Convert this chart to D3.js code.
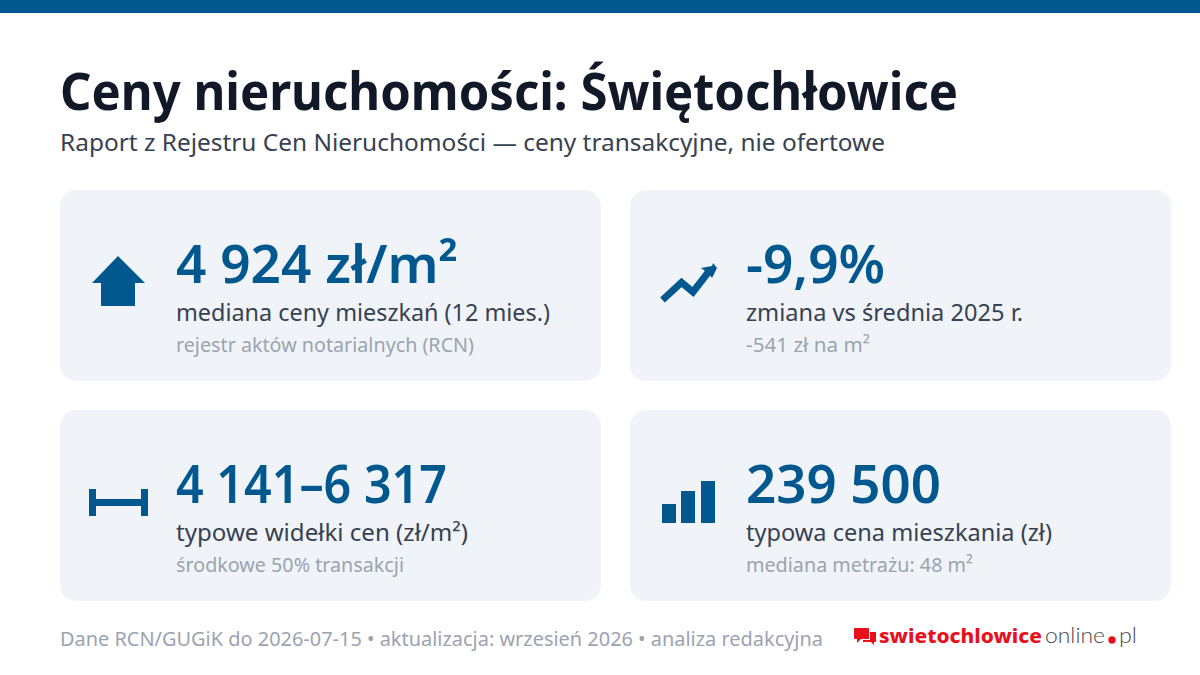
<!DOCTYPE html>
<html lang="pl">
<head>
<meta charset="utf-8">
<script src="https://cdn.jsdelivr.net/npm/d3@7"></script>
<style>
    html, body { margin: 0; padding: 0; background: #fff; }
    svg { display: block; }
    text { font-family: "Noto Sans", sans-serif; }
</style>
</head>
<body>
<svg id="chart" width="1200" height="675"></svg>
<script>
// Contenu des cartes
const values = ['4 924 zł/m²', '-9,9%', '4 141–6 317', '239 500'];
const labels = ['mediana ceny mieszkań (12 mies.)', 'zmiana vs średnia 2025 r.', 'typowe widełki cen (zł/m²)', 'typowa cena mieszkania (zł)'];
const notes = ['rejestr aktów notarialnych (RCN)', '-541 zł na m²', 'środkowe 50% transakcji', 'mediana metrażu: 48 m²'];
const icons = ['house', 'trend', 'range', 'bars'];

const title = 'Ceny nieruchomości: Świętochłowice';
const subtitle = 'Raport z Rejestru Cen Nieruchomości — ceny transakcyjne, nie ofertowe';
const footer = 'Dane RCN/GUGiK do 2026-07-15 • aktualizacja: wrzesień 2026 • analiza redakcyjna';

// Largeurs mesurées sur l'image (la police d'origine n'est pas installée)
const valueWidths = [282, 139, 271, 195];
const labelWidths = [374, 277, 292, 306];
const noteWidths = [298, 124, 228, 227];

const blue = '#00588f';
const svg = d3.select('#chart');

svg.append('rect').attr('width', 1200).attr('height', 13).attr('fill', blue);

svg.append('text').attr('x', 60).attr('y', 110)
    .attr('font-size', 52).attr('font-weight', 700).attr('fill', '#111827')
    .attr('textLength', 898).attr('lengthAdjust', 'spacingAndGlyphs')
    .text(title);

svg.append('text').attr('x', 60).attr('y', 151)
    .attr('font-size', 24).attr('fill', '#374151')
    .attr('textLength', 825).attr('lengthAdjust', 'spacingAndGlyphs')
    .text(subtitle);

// Cartes
const cards = svg.selectAll('g.card')
    .data(values)
    .join('g')
    .attr('class', 'card')
    .attr('transform', function (d, i) {
        return 'translate(' + (60 + (i % 2) * 570) + ',' + (190 + Math.floor(i / 2) * 220) + ')';
    });

cards.append('rect')
    .attr('width', 541).attr('height', 191).attr('rx', 16)
    .attr('fill', '#f0f4f9');

cards.append('text').attr('x', 116).attr('y', 93)
    .attr('font-size', 52).attr('font-weight', 600).attr('fill', blue)
    .attr('textLength', function (d, i) { return valueWidths[i]; })
    .attr('lengthAdjust', 'spacingAndGlyphs')
    .text(function (d) { return d; });

cards.append('text').attr('x', 116).attr('y', 131)
    .attr('font-size', 24).attr('fill', '#374151')
    .attr('textLength', function (d, i) { return labelWidths[i]; })
    .attr('lengthAdjust', 'spacingAndGlyphs')
    .text(function (d, i) { return labels[i]; });

cards.append('text').attr('x', 116).attr('y', 162)
    .attr('font-size', 20).attr('fill', '#9ca3af')
    .attr('textLength', function (d, i) { return noteWidths[i]; })
    .attr('lengthAdjust', 'spacingAndGlyphs')
    .text(function (d, i) { return notes[i]; });

// Icônes
const drawIcon = {
    house: function (g) {
        g.append('path').attr('fill', blue)
            .attr('d', 'M58,66 L85,93 L75,93 L75,116 L41,116 L41,93 L32,93 Z');
    },
    trend: function (g) {
        g.append('path').attr('fill', 'none').attr('stroke', blue).attr('stroke-width', 7)
            .attr('d', 'M32.5,110 L51.5,92.5 L63,102 L80,80');
        g.append('path').attr('fill', blue)
            .attr('d', 'M71,78 L82,76 L83,73 L87,78 L82,88 L79,84 Z');
    },
    range: function (g) {
        g.append('rect').attr('x', 29).attr('y', 79).attr('width', 7).attr('height', 27).attr('fill', blue);
        g.append('rect').attr('x', 81).attr('y', 79).attr('width', 7).attr('height', 27).attr('fill', blue);
        g.append('rect').attr('x', 36).attr('y', 89).attr('width', 45).attr('height', 7).attr('fill', blue);
    },
    bars: function (g) {
        g.append('rect').attr('x', 32).attr('y', 94).attr('width', 14).attr('height', 19).attr('fill', blue);
        g.append('rect').attr('x', 51).attr('y', 81).attr('width', 14).attr('height', 32).attr('fill', blue);
        g.append('rect').attr('x', 71).attr('y', 71).attr('width', 14).attr('height', 42).attr('fill', blue);
    }
};

cards.each(function (d, i) {
    drawIcon[icons[i]](d3.select(this).append('g'));
});

// Pied de page
svg.append('text').attr('x', 60).attr('y', 646)
    .attr('font-size', 20).attr('fill', '#9ca3af')
    .attr('textLength', 763).attr('lengthAdjust', 'spacingAndGlyphs')
    .text(footer);

// Logo
const logo = svg.append('g');
logo.append('rect').attr('x', 854).attr('y', 628).attr('width', 15).attr('height', 11).attr('rx', 1).attr('fill', '#e8101c');
logo.append('path').attr('d', 'M857,638 L857,643 L862,638 Z').attr('fill', '#e8101c');
logo.append('path').attr('d', 'M870,632 L876,632 L876,642 L874,642 L874,645 L871,642 L863,642 L863,640 L870,640 Z').attr('fill', '#e8101c');
logo.append('text').attr('x', 879).attr('y', 643)
    .attr('font-size', 20).attr('font-weight', 800).attr('fill', '#e8101c')
    .attr('textLength', 163).attr('lengthAdjust', 'spacingAndGlyphs')
    .text('swietochlowice');
logo.append('text').attr('x', 1045).attr('y', 643)
    .attr('font-size', 22).attr('font-weight', 300).attr('fill', '#4a4a4a')
    .style('font-family', 'Lato, sans-serif')
    .attr('textLength', 60).attr('lengthAdjust', 'spacingAndGlyphs')
    .text('online');
logo.append('circle').attr('cx', 1112).attr('cy', 640).attr('r', 3.7).attr('fill', '#e8101c');
logo.append('text').attr('x', 1119).attr('y', 643)
    .attr('font-size', 22).attr('font-weight', 300).attr('fill', '#4a4a4a')
    .style('font-family', 'Lato, sans-serif')
    .attr('textLength', 18).attr('lengthAdjust', 'spacingAndGlyphs')
    .text('pl');
</script>
</body>
</html>
